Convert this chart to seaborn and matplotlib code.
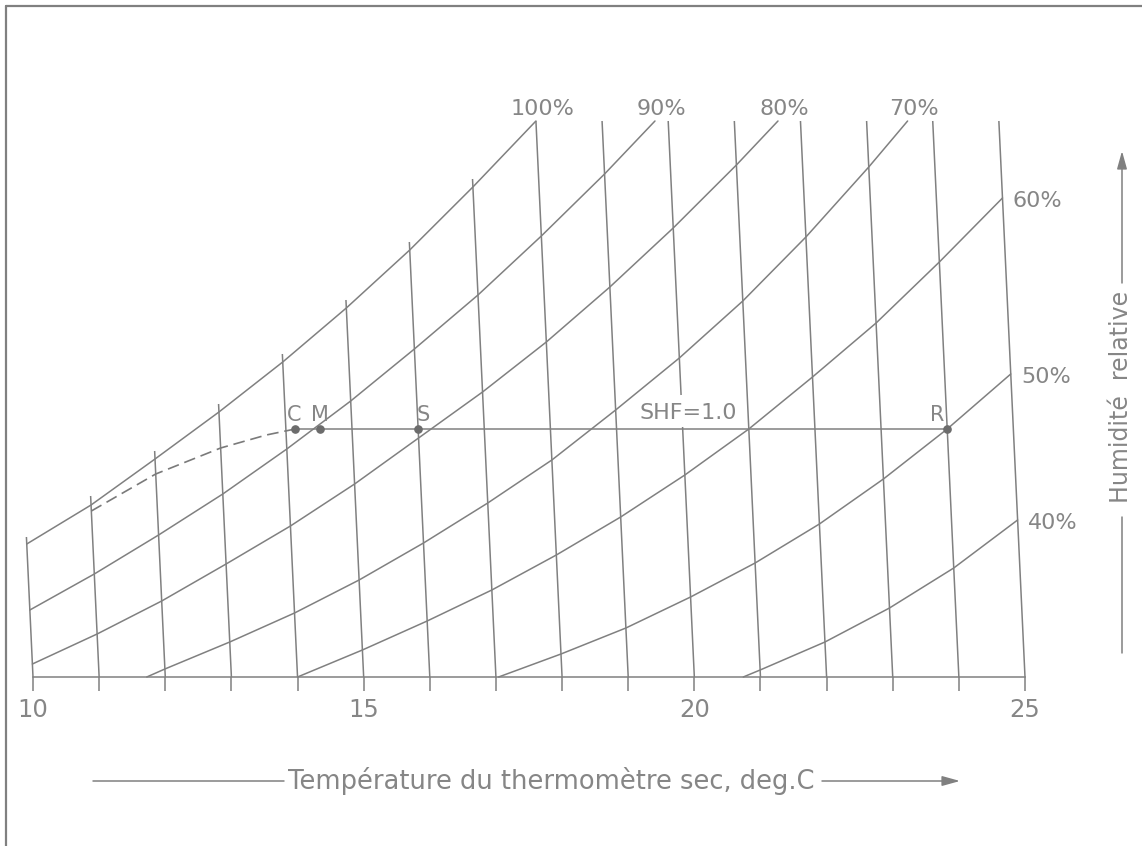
import numpy as np
import pandas as pd
import matplotlib
matplotlib.use("Agg")
import matplotlib.pyplot as plt
from matplotlib.transforms import Affine2D
from matplotlib.lines import Line2D
import seaborn as sns

# ------------------------------------------------------------------
# Data
# (x = dry-bulb temperature, deg C ; y = moisture content, chart units)
# ------------------------------------------------------------------
temps = list(range(10, 26))
temp_top = [140, 181, 226, 273, 323, 377, 435, 498,
            556, 556, 556, 556, 556, 556, 556, 556]

rh_labels = ["100%", "90%", "80%", "70%", "60%", "50%", "40%"]
rh100_t = [10, 11, 12, 13, 14, 15, 16, 17, 18]
rh100_w = [133, 172, 218, 265, 315, 369, 427, 490, 556]
rh90_t = [10, 11, 12, 13, 14, 15, 16, 17, 18, 19, 19.80]
rh90_w = [67, 103, 142, 183, 228, 276, 328, 382, 441, 503, 556]
rh80_t = [10, 11, 12, 13, 14, 15, 16, 17, 18, 19, 20, 21, 21.66]
rh80_w = [13, 43, 76, 113, 151, 193, 239, 285, 335, 390, 449, 512, 556]
rh70_t = [11.72, 12, 13, 14, 15, 16, 17, 18, 19, 20, 21, 22, 23, 23.62]
rh70_w = [0, 8, 35, 64, 97, 134, 174, 217, 267, 319, 376, 440, 510, 556]
rh60_t = [14, 15, 16, 17, 18, 19, 20, 21, 22, 23, 24, 25]
rh60_w = [0, 27, 56, 87, 122, 160, 202, 248, 300, 354, 415, 479]
rh50_t = [17.04, 18, 19, 20, 21, 22, 23, 24, 25]
rh50_w = [0, 23, 49, 80, 114, 153, 198, 248, 303]
rh40_t = [20.74, 21, 22, 23, 24, 25]
rh40_w = [0, 7, 35, 69, 109, 157]

point_names = ["C", "M", "S", "R"]
point_t = [14.14, 14.52, 16.0, 24.0]
point_w = [248, 248, 248, 248]

dash_t = [11.0, 12.0, 13.0, 13.7, 14.14]
dash_w = [166, 203, 229, 242, 248]

shf_text = "SHF=1.0"
shf_t, shf_w = 20.1, 264
gap_t, gap_lo, gap_hi = 20, 250, 282

xtick_major = [10, 15, 20, 25]
xlabel = "Température du thermomètre sec, deg.C"
ylabel = "Humidité  relative"

# ------------------------------------------------------------------
sns.set_theme(style="white")
plt.rcParams["font.family"] = ["DejaVu Sans"]

GRAY = "#808080"
TXT = "#868686"
DOT = "#6c6c6c"
LW = 1.1

W, H = 1142, 846
fig = plt.figure(figsize=(W / 100, H / 100), dpi=100)
fig.patch.set_facecolor("white")
ax = fig.add_axes([33 / W, 169 / H, 992 / W, 556 / H])
ax.set_xlim(10, 25)
ax.set_ylim(0, 556)
ax.set_facecolor("none")

# skewed dry-bulb lines: shift left with height
k = 0.047 * 15 / 992
skew = Affine2D(np.array([[1.0, -k, 0.0], [0.0, 1.0, 0.0], [0.0, 0.0, 1.0]]))
trans = skew + ax.transData

# temperature lines
for t, top in zip(temps, temp_top):
    if t == gap_t:
        segs = [(0, gap_lo), (gap_hi, top)]
    else:
        segs = [(0, top)]
    for a, b in segs:
        ax.plot([t, t], [a, b], color=GRAY, lw=LW, transform=trans,
                clip_on=False, solid_capstyle="butt")

# relative humidity curves
curves = [(rh100_t, rh100_w), (rh90_t, rh90_w), (rh80_t, rh80_w),
          (rh70_t, rh70_w), (rh60_t, rh60_w), (rh50_t, rh50_w),
          (rh40_t, rh40_w)]
for lab, (tt, ww) in zip(rh_labels, curves):
    df = pd.DataFrame({"t": tt, "w": ww})
    sns.lineplot(data=df, x="t", y="w", ax=ax, color=GRAY, lw=LW,
                 estimator=None, sort=False, transform=trans, clip_on=False)
    if ww[-1] >= 556:
        ax.annotate(lab, xy=(tt[-1], ww[-1]), xycoords=trans,
                    xytext=(4.5, 4.3), textcoords="offset points",
                    ha="center", va="baseline", fontsize=16, color=TXT)
    else:
        ax.annotate(lab, xy=(tt[-1], ww[-1]), xycoords=trans,
                    xytext=(7.5, -6.5), textcoords="offset points",
                    ha="left", va="baseline", fontsize=16, color=TXT)

# process line C-M-S-R (sensible cooling, SHF = 1.0)
ax.plot([point_t[0], point_t[-1]], [point_w[0], point_w[-1]], color=GRAY,
        lw=LW, transform=trans, clip_on=False)
ax.plot(dash_t, dash_w, color="#7a7a7a", lw=1.2, ls=(0, (7.0, 3.5)),
        transform=trans, clip_on=False)
pts = pd.DataFrame({"t": point_t, "w": point_w})
ax.plot(pts["t"], pts["w"], ls="none", marker="o", ms=5.2, color=DOT,
        transform=trans, clip_on=False, zorder=5)
label_dx = {"C": -1.0, "M": -0.5, "S": 3.8, "R": -7.2}
for n, t, w in zip(point_names, point_t, point_w):
    ax.annotate(n, xy=(t, w), xycoords=trans, xytext=(label_dx[n], 6.0),
                textcoords="offset points", ha="center", va="baseline",
                fontsize=15, color=TXT)

ax.text(shf_t, shf_w, shf_text, transform=trans, ha="center",
        va="center", fontsize=16, color=TXT)

# axis: baseline with ticks every degree
for s in ["top", "right", "left"]:
    ax.spines[s].set_visible(False)
ax.spines["bottom"].set_color(GRAY)
ax.spines["bottom"].set_linewidth(LW)
ax.set_xticks(xtick_major)
ax.set_xticklabels([str(v) for v in xtick_major])
ax.set_xticks(temps, minor=True)
ax.tick_params(axis="x", which="both", direction="out", length=10,
               width=LW, color=GRAY, pad=5, labelsize=17.5, labelcolor=TXT,
               bottom=True)
ax.set_yticks([])
ax.set_xlabel("")
ax.set_ylabel("")

# frame lines (left + top)
fig.add_artist(Line2D([6 / W, 6 / W], [0, 1 - 6 / H], transform=fig.transFigure,
                      color=GRAY, lw=1.6))
fig.add_artist(Line2D([6 / W, 1], [1 - 6 / H, 1 - 6 / H], transform=fig.transFigure,
                      color=GRAY, lw=1.6))

# x label with arrow lines
fig.text(551 / W, 1 - 781 / H, xlabel, ha="center", va="center",
         fontsize=18.5, color=TXT)
fig.add_artist(Line2D([93 / W, 284 / W], [1 - 781 / H] * 2,
                      transform=fig.transFigure, color=GRAY, lw=LW))
ax.annotate("", xy=(960, H - 781), xycoords="figure pixels",
            xytext=(822, H - 781), textcoords="figure pixels",
            arrowprops=dict(arrowstyle="-|>,head_length=0.9,head_width=0.25",
                            color=GRAY, lw=LW, shrinkA=0, shrinkB=0))

# y label with arrow lines
fig.text(1121 / W, 1 - 397 / H, ylabel, ha="center", va="center",
         rotation=90, fontsize=17, color=TXT)
fig.add_artist(Line2D([1122 / W] * 2, [1 - 653 / H, 1 - 517 / H],
                      transform=fig.transFigure, color=GRAY, lw=LW))
ax.annotate("", xy=(1122, H - 151), xycoords="figure pixels",
            xytext=(1122, H - 283), textcoords="figure pixels",
            arrowprops=dict(arrowstyle="-|>,head_length=0.9,head_width=0.25",
                            color=GRAY, lw=LW, shrinkA=0, shrinkB=0))

fig.savefig("out.png", dpi=100, facecolor="white")
